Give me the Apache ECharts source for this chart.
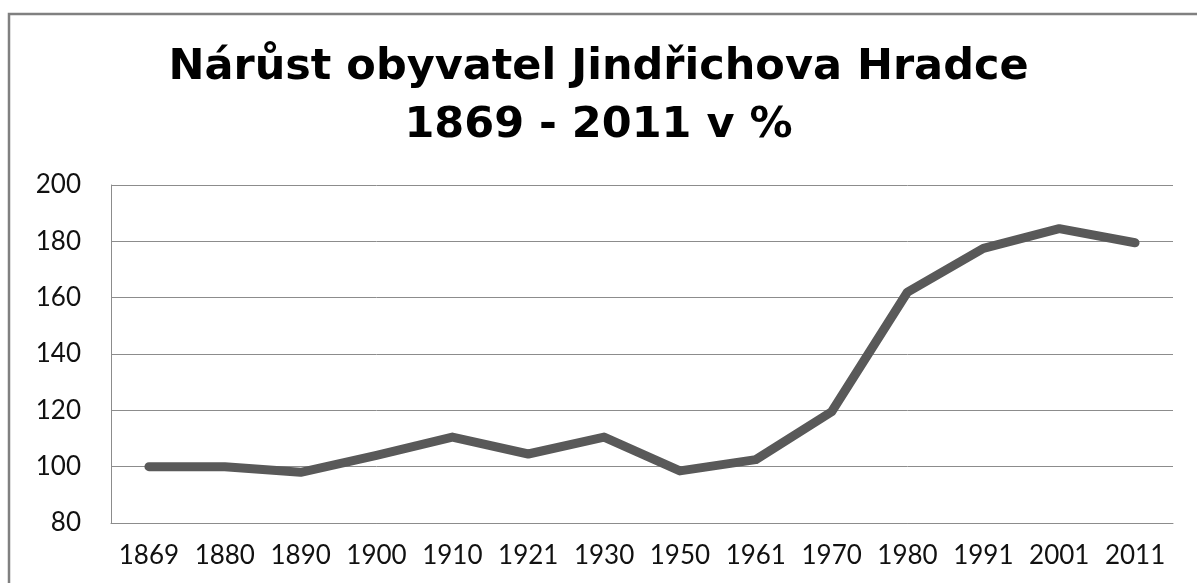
<!DOCTYPE html>
<html>
<head>
<meta charset="utf-8">
<script src="https://cdn.jsdelivr.net/npm/echarts@6/dist/echarts.min.js"></script>
<style>
  html, body { margin: 0; padding: 0; background: #fff; }
  #chart { width: 1197px; height: 583px; }
</style>
</head>
<body>
<div id="chart"></div>
<script>
// data
const years = ['1869', '1880', '1890', '1900', '1910', '1921', '1930', '1950', '1961', '1970', '1980', '1991', '2001', '2011']
const growth = [100, 100, 98, 104, 110.5, 104.5, 110.5, 98.5, 102.5, 119.5, 162, 177.5, 184.5, 179.5]
const titleLines = ['Nárůst obyvatel Jindřichova Hradce', '1869 - 2011 v %']

const chart = echarts.init(document.getElementById('chart'))

const option = {
  backgroundColor: '#fff',
  animation: false,
  title: {
    text: titleLines.join('\n'),
    left: 'center',
    top: 39,
    padding: [0, 0, 0, 22],
    textStyle: {
      fontFamily: 'DejaVu Sans',
      fontWeight: 'bold',
      fontSize: 43,
      lineHeight: 58,
      color: '#000'
    }
  },
  // frame of the chart object (only top and left edges are in view)
  graphic: [{
    type: 'rect',
    shape: { x: 9, y: 14, width: 1400, height: 800 },
    style: { fill: 'none', stroke: '#808080', lineWidth: 2.5 },
    silent: true
  }],
  grid: {
    left: 111,
    right: 24,
    top: 185,
    bottom: 60,
    containLabel: false
  },
  xAxis: {
    type: 'category',
    data: years,
    boundaryGap: true,
    axisLine: { show: true, lineStyle: { color: '#8c8c8c', width: 1 } },
    axisTick: { show: false },
    axisLabel: {
      interval: 0,
      margin: 20,
      fontFamily: 'Lato',
      fontSize: 26,
      color: '#111'
    },
    splitLine: { show: false }
  },
  yAxis: {
    type: 'value',
    min: 80,
    max: 200,
    interval: 20,
    axisLine: { show: true, lineStyle: { color: '#8c8c8c', width: 1 } },
    axisTick: { show: false },
    axisLabel: {
      margin: 30,
      fontFamily: 'Lato',
      fontSize: 26,
      color: '#111'
    },
    splitLine: { show: true, lineStyle: { color: '#8c8c8c', width: 1 } }
  },
  series: [{
    type: 'line',
    data: growth,
    symbol: 'none',
    lineStyle: {
      color: '#595959',
      width: 9,
      cap: 'round',
      join: 'round'
    }
  }]
}

chart.setOption(option)
</script>
</body>
</html>
